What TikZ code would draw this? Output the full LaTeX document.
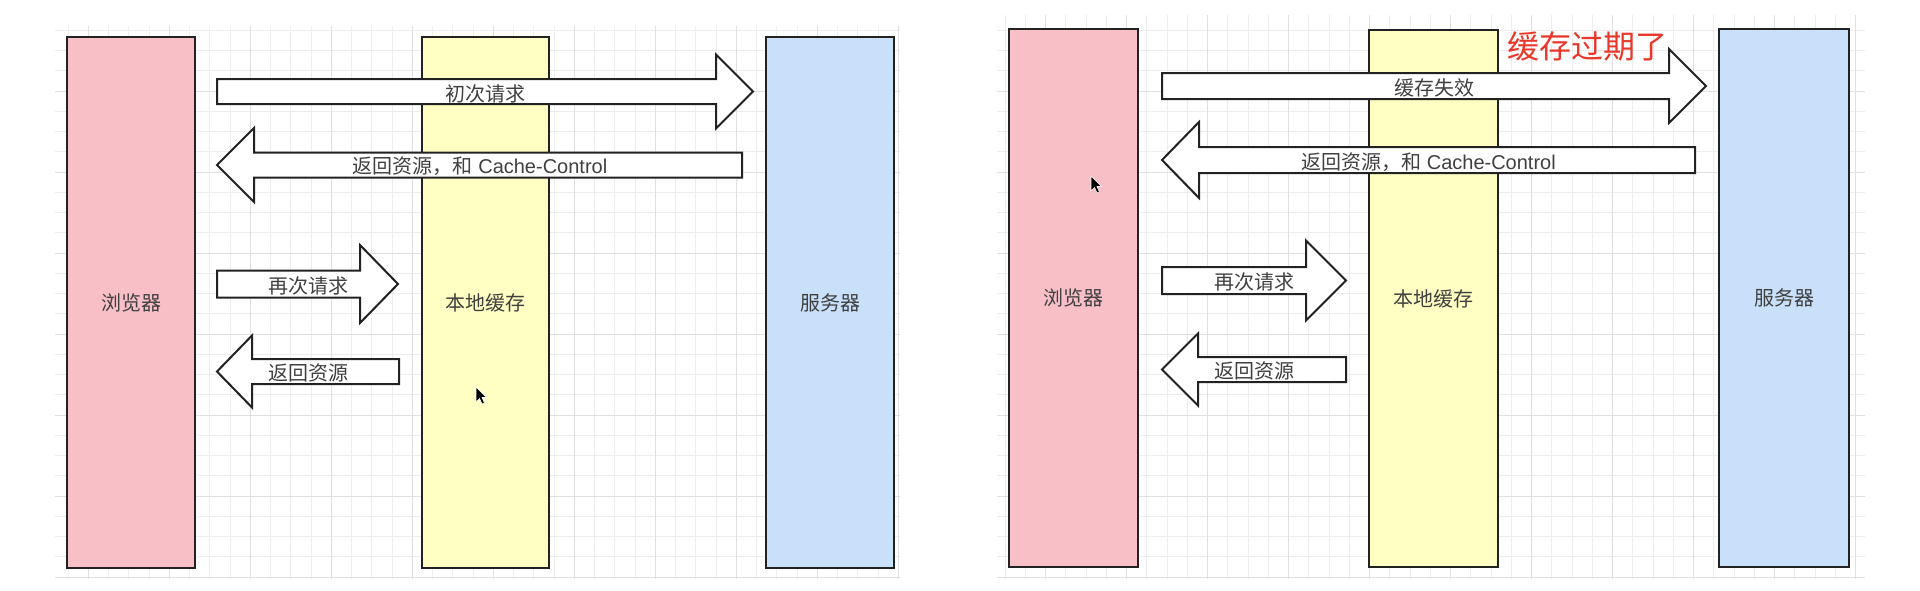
\documentclass[tikz,border=0pt]{standalone}
\usepackage{fontspec}
\setmainfont{Liberation Sans}
\newfontfamily\cjk{Noto Sans CJK SC}
\definecolor{pinkf}{HTML}{F8BFC7}
\definecolor{yellowf}{HTML}{FFFFC4}
\definecolor{bluef}{HTML}{C8E0F9}
\definecolor{txt}{HTML}{404040}
\definecolor{redtxt}{HTML}{E8382A}
\definecolor{edge}{HTML}{222222}
\newcommand\RArrow[6]{% left x, head base x, tip x, centre y, half shaft, half head
  \draw[blockarrow] (#1,{#4-#5}) -- (#2,{#4-#5}) -- (#2,{#4-#6}) -- (#3,#4) -- (#2,{#4+#6}) -- (#2,{#4+#5}) -- (#1,{#4+#5}) -- cycle;}
\newcommand\LArrow[6]{% tip x, head base x, right x, centre y, half shaft, half head
  \draw[blockarrow] (#1,#4) -- (#2,{#4-#6}) -- (#2,{#4-#5}) -- (#3,{#4-#5}) -- (#3,{#4+#5}) -- (#2,{#4+#5}) -- (#2,{#4+#6}) -- cycle;}
\newcommand\Pointer[2]{%
  \fill[black,draw=white,line width=0.6pt] (#1,#2) -- (#1,{#2+15}) -- ({#1+3.5},{#2+11.5}) -- ({#1+6},{#2+17}) -- ({#1+8.5},{#2+16}) -- ({#1+6},{#2+10.5}) -- ({#1+10.5},{#2+10.5}) -- cycle;}
\begin{document}
\begin{tikzpicture}[x=1pt,y=-1pt,
  gridl/.style={draw=black!7,line width=0.8pt},
  gridm/.style={draw=black!12,line width=0.9pt},
  box/.style={draw=edge,line width=2pt,fill=#1,text=txt,font=\cjk\fontsize{20}{24}\selectfont,inner sep=0pt},
  blockarrow/.style={draw=edge,line width=2pt,fill=white,line join=miter},
  albl/.style={text=txt,font=\fontsize{20}{24}\selectfont,inner sep=0pt},
  redlbl/.style={text=redtxt,font=\cjk\fontsize{32}{36}\selectfont,inner sep=0pt}]
\useasboundingbox (0,0) rectangle (1920,590);
\fill[white] (0,0) rectangle (1920,590);
% grids
\foreach \i in {0,...,41} {\draw[gridl] ({68+\i*20.25},26) -- ({68+\i*20.25},579);}
\foreach \j in {0,...,27} {\draw[gridl] (55,{577-\j*20.25}) -- (900,{577-\j*20.25});}
\foreach \i in {1,5,...,41} {\draw[gridm] ({68+\i*20.25},26) -- ({68+\i*20.25},579);}
\foreach \j in {0,4,...,27} {\draw[gridm] (55,{577-\j*20.25}) -- (900,{577-\j*20.25});}
\foreach \i in {0,...,42} {\draw[gridl] ({1005+\i*20.25},15) -- ({1005+\i*20.25},579);}
\foreach \j in {0,...,27} {\draw[gridl] (997,{577-\j*20.25}) -- (1865,{577-\j*20.25});}
\foreach \i in {2,6,...,42} {\draw[gridm] ({1005+\i*20.25},15) -- ({1005+\i*20.25},579);}
\foreach \j in {0,4,...,27} {\draw[gridm] (997,{577-\j*20.25}) -- (1865,{577-\j*20.25});}
% left panel boxes
\node[box=pinkf,minimum width=128pt,minimum height=531pt] (b1) at (131,302.5) {浏览器};
\node[box=yellowf,minimum width=127pt,minimum height=531pt] (c1) at (485.5,302.5) {本地缓存};
\node[box=bluef,minimum width=128pt,minimum height=531pt] (s1) at (830,302.5) {服务器};
% left panel arrows
\RArrow{217}{716}{753}{91.5}{12.5}{37}
\node[albl] (l1) at (485,93.5) {\cjk 初次请求};
\LArrow{217}{254}{742}{165}{12.5}{37}
\node[albl] (l2) at (480,166.5) {{\cjk 返回资源，和} Cache-Control};
\RArrow{217}{360}{398}{284}{13.5}{39}
\node[albl] (l3) at (308,285.5) {\cjk 再次请求};
\LArrow{217}{252}{399}{371.5}{12.5}{36}
\node[albl] (l4) at (308,373) {\cjk 返回资源};
\Pointer{476}{387}
% right panel boxes
\node[box=pinkf,minimum width=129pt,minimum height=538pt] (b2) at (1073.5,298) {浏览器};
\node[box=yellowf,minimum width=129pt,minimum height=537pt] (c2) at (1433.5,298.5) {本地缓存};
\node[box=bluef,minimum width=130pt,minimum height=538pt] (s2) at (1784,298) {服务器};
% right panel arrows
\RArrow{1162}{1669}{1706}{86}{13}{37}
\node[albl] (r1) at (1434,88) {\cjk 缓存失效};
\LArrow{1162}{1199}{1695}{160}{13}{38}
\node[albl] (r2) at (1428.5,162) {{\cjk 返回资源，和} Cache-Control};
\RArrow{1162}{1306}{1346}{280.5}{13.5}{40}
\node[albl] (r3) at (1254,282) {\cjk 再次请求};
\LArrow{1162}{1198}{1346}{369.5}{12.5}{36}
\node[albl] (r4) at (1254,371) {\cjk 返回资源};
\node[redlbl] (note) at (1587,46) {缓存过期了};
\Pointer{1091}{176}
\end{tikzpicture}
\end{document}
